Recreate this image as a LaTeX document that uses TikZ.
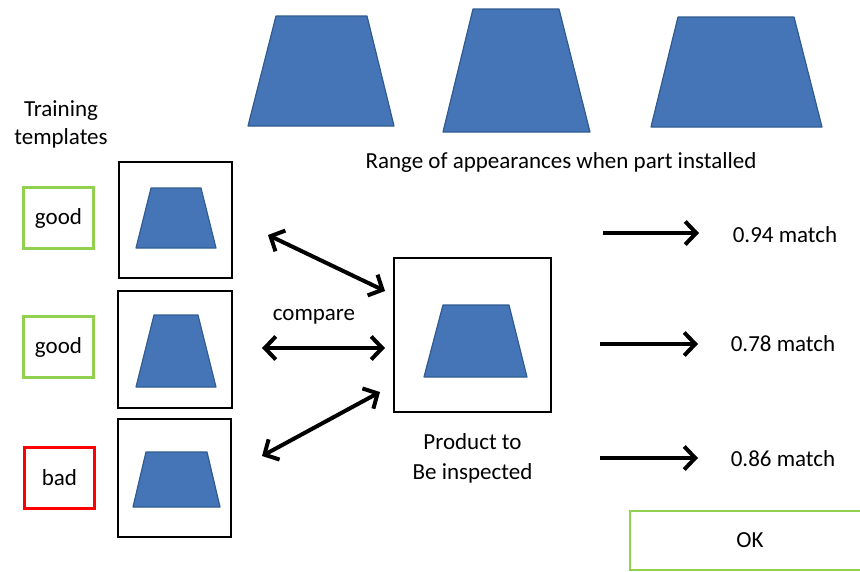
\documentclass[tikz,border=0pt]{standalone}
\usepackage{fontspec}
\setmainfont{Carlito}
\usetikzlibrary{arrows.meta,positioning}

\definecolor{partblue}{HTML}{4575B6}
\definecolor{partedge}{HTML}{2F5B91}
\definecolor{okgreen}{HTML}{92D050}
\definecolor{badred}{HTML}{FF0000}

\tikzset{
  part/.style={fill=partblue, draw=partedge, line width=1.2pt, line join=round},
  frame/.style={draw, line width=2pt, inner sep=0pt},
  tagbox/.style={draw=okgreen, line width=2.2pt, inner sep=0pt,
                 minimum width=70pt, minimum height=61pt},
  link/.style={line width=4pt,
               {Straight Barb[length=11pt,width=23pt]}-{Straight Barb[length=11pt,width=23pt]}},
  push/.style={line width=4pt, -{Straight Barb[length=11pt,width=23pt]}},
}

\begin{document}
\begin{tikzpicture}[x=1pt, y=-1pt, font=\fontsize{23}{28}\selectfont]
  \useasboundingbox (0,0) rectangle (860,571);

  % appearances of the installed part
  \draw[part] (276,16) -- (367,16) -- (394,126) -- (248,126) -- cycle;
  \draw[part] (473,9) -- (559,9) -- (590,132) -- (443,132) -- cycle;
  \draw[part] (678,17) -- (794,17) -- (822,127) -- (651,127) -- cycle;
  \node (range) at (561,162) {Range of appearances when part installed};

  % training templates
  \node[align=center] (train) at (61,124) {Training\\templates};
  \node[tagbox] (good1) at (58.5,218) {good};
  \node[tagbox] (good2) at (58.5,347) {good};
  \node[tagbox, draw=badred] (bad) at (59.5,478) {bad};

  \node[frame, minimum width=113pt, minimum height=116pt] (tmpl1) at (175.5,220) {};
  \node[frame, minimum width=114pt, minimum height=117pt] (tmpl2) at (175,349.5) {};
  \node[frame, minimum width=113pt, minimum height=118pt] (tmpl3) at (174.5,478) {};
  \draw[part] (151,188) -- (201,188) -- (216,248) -- (136,248) -- cycle;
  \draw[part] (154,315) -- (198,315) -- (216,387) -- (136,387) -- cycle;
  \draw[part] (146,452) -- (207,452) -- (220,507) -- (133,507) -- cycle;

  % product under inspection
  \node[frame, minimum width=157pt, minimum height=154pt] (prod) at (472.5,335) {};
  \draw[part] (443,305) -- (509,305) -- (527,377) -- (424,377) -- cycle;
  \node[align=center, font=\fontsize{23}{30}\selectfont, below=17pt of prod] (prodtxt)
    {Product to\\Be inspected};

  % comparison arrows
  \coordinate (c1a) at (268,235);  \coordinate (c1b) at (385,291);
  \coordinate (c2a) at (262,348);  \coordinate (c2b) at (385,348);
  \coordinate (c3a) at (262,456);  \coordinate (c3b) at (380,392);
  \draw[link] (c1a) -- (c1b);
  \draw[link] (c2a) -- (c2b);
  \draw[link] (c3a) -- (c3b);
  \node (cmp) at (314,317) {compare};

  % match scores
  \node (m1) at (785,235) {0.94 match};
  \node (m2) at (783,344) {0.78 match};
  \node (m3) at (783,459) {0.86 match};
  \coordinate (s1) at (603,233);  \coordinate (s2) at (600,344);
  \coordinate (s3) at (600,458);
  \draw[push] (s1) -- (s1 -| 699,0);
  \draw[push] (s2) -- (s2 -| 698,0);
  \draw[push] (s3) -- (s3 -| 698,0);

  \node[tagbox, minimum width=240pt, minimum height=59pt] (ok) at (750,540.5) {OK};
\end{tikzpicture}
\end{document}
